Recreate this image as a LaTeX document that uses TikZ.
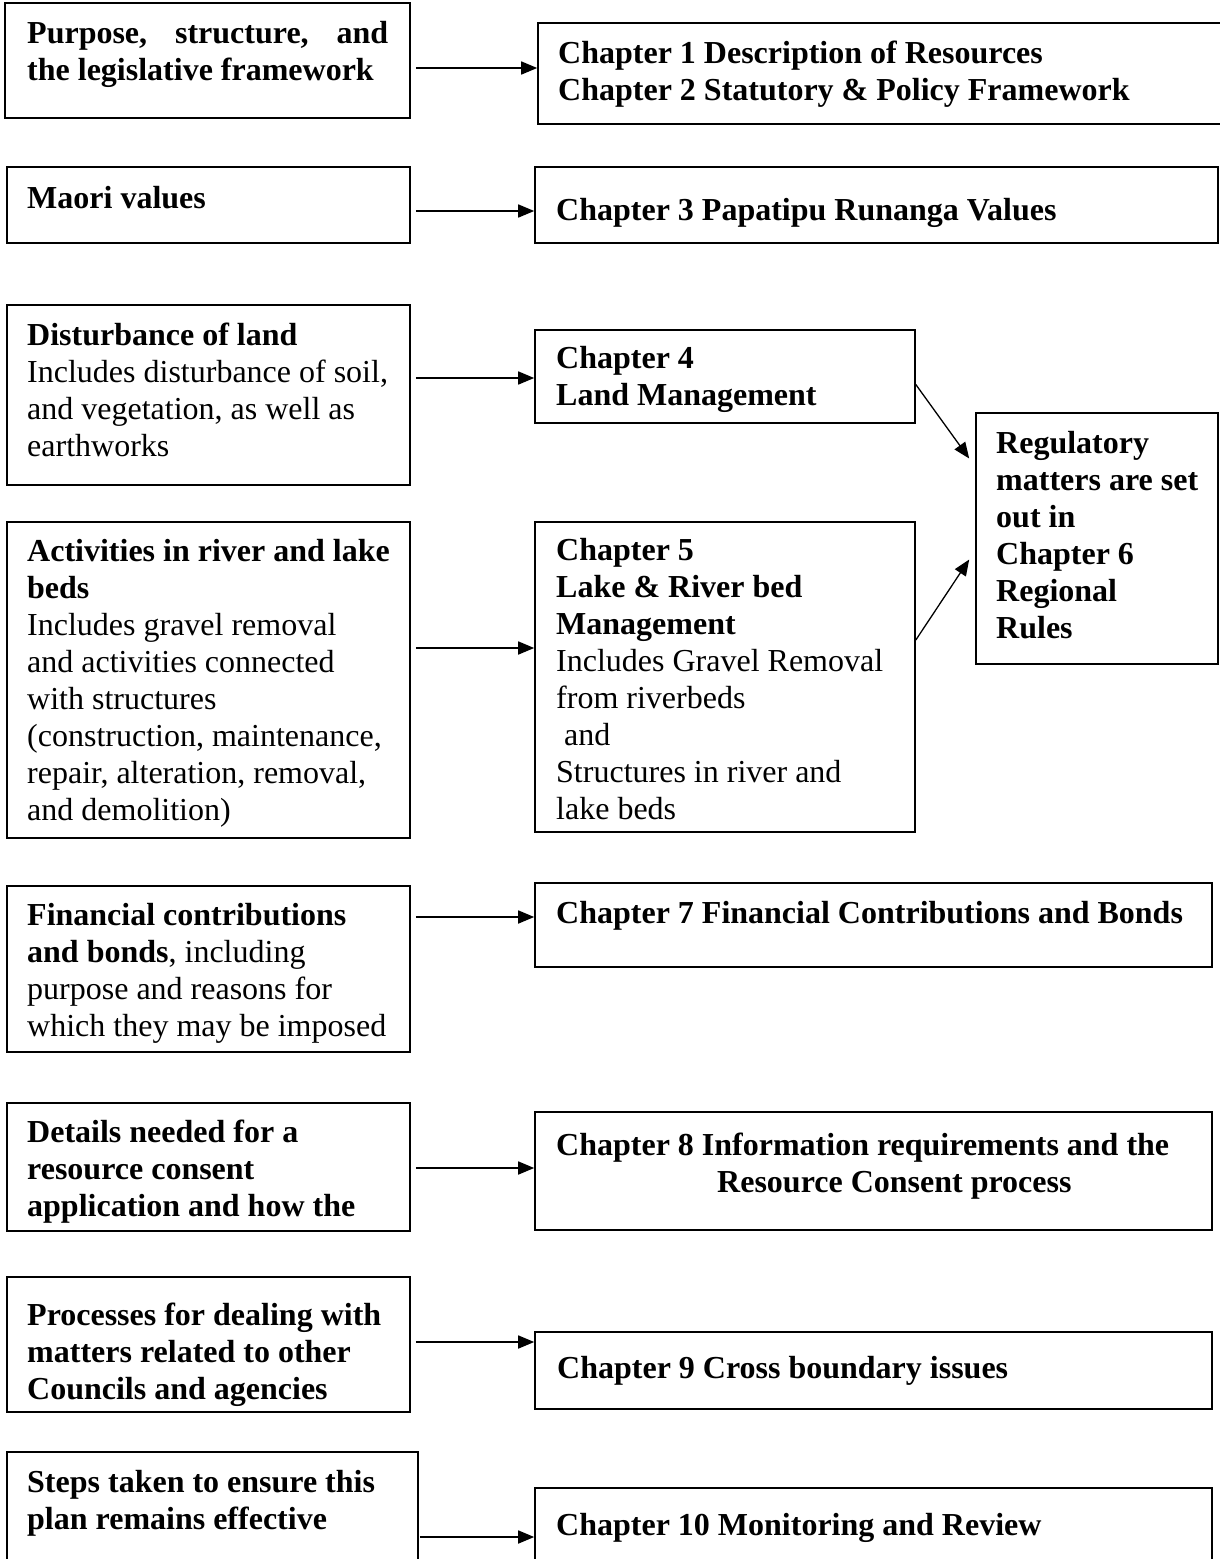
\documentclass[tikz,border=0pt]{standalone}
\usepackage{fontspec}
\setmainfont{Liberation Serif}
\usetikzlibrary{arrows.meta,fit}
\newcommand{\fl}{\rule{0pt}{24pt}}
\begin{document}
\begin{tikzpicture}[x=1pt,y=-1pt,
  box/.style={draw, line width=1.6pt, inner sep=0pt},
  txt/.style={anchor=north west, inner sep=0pt, align=left, font=\fontsize{32}{37}\selectfont},
  arr/.style={line width=1.6pt, -{Triangle[length=16pt,width=13pt]}}]
\useasboundingbox (0,0) rectangle (1219,1559);

% left boxes
\node[box, fit={(5,3) (410,118)}] (a1) {};
\node[box, fit={(7,167) (410,243)}] (a2) {};
\node[box, fit={(7,305) (410,485)}] (a3) {};
\node[box, fit={(7,522) (410,838)}] (a4) {};
\node[box, fit={(7,886) (410,1052)}] (a5) {};
\node[box, fit={(7,1103) (410,1231)}] (a6) {};
\node[box, fit={(7,1277) (410,1412)}] (a7) {};
\node[box, fit={(7,1452) (418,1575)}] (a8) {};

% right boxes
\node[box, fit={(538,23) (1230,124)}] (b1) {};
\node[box, fit={(535,167) (1218,243)}] (b2) {};
\node[box, fit={(535,330) (915,423)}] (b3) {};
\node[box, fit={(535,522) (915,832)}] (b4) {};
\node[box, fit={(976,413) (1218,664)}] (c) {};
\node[box, fit={(535,883) (1212,967)}] (b5) {};
\node[box, fit={(535,1112) (1212,1230)}] (b6) {};
\node[box, fit={(535,1332) (1212,1409)}] (b7) {};
\node[box, fit={(535,1488) (1212,1575)}] (b8) {};

% texts
\node[txt] (a1t) at (27,19) {\fl\bfseries\hbox to 361pt{Purpose,\hfill structure,\hfill and}\\\bfseries the legislative framework};
\node[txt] (b1t) at (558,39) {\fl\bfseries Chapter 1 Description of Resources\\\bfseries Chapter 2 Statutory \& Policy Framework};
\node[txt] (a2t) at (27,184) {\fl\bfseries Maori values};
\node[txt] (b2t) at (556,196) {\fl\bfseries Chapter 3 Papatipu Runanga Values};
\node[txt] (a3t) at (27,321) {\fl\textbf{Disturbance of land}\\Includes disturbance of soil,\\and vegetation, as well as\\earthworks};
\node[txt] (b3t) at (556,344) {\fl\bfseries Chapter 4\\\bfseries Land Management};
\node[txt] (a4t) at (27,537) {\fl\textbf{Activities in river and lake}\\\textbf{beds}\\Includes gravel removal\\and activities connected\\with structures\\(construction, maintenance,\\repair, alteration, removal,\\and demolition)};
\node[txt] (b4t) at (556,536) {\fl\textbf{Chapter 5}\\\textbf{Lake \& River bed}\\\textbf{Management}\\Includes Gravel Removal\\from riverbeds\\\hspace*{8pt}and\\Structures in river and\\lake beds};
\node[txt] (ct) at (996,429) {\fl\bfseries Regulatory\\\bfseries matters are set\\\bfseries out in\\\bfseries Chapter 6\\\bfseries Regional\\\bfseries Rules};
\node[txt] (a5t) at (27,901) {\fl\textbf{Financial contributions}\\\textbf{and bonds}, including\\purpose and reasons for\\which they may be imposed};
\node[txt] (b5t) at (556,899) {\fl\bfseries Chapter 7 Financial Contributions and Bonds};
\node[txt] (a6t) at (27,1118) {\fl\bfseries Details needed for a\\\bfseries resource consent\\\bfseries application and how the};
\node[txt] (b6t) at (556,1131) {\fl\bfseries Chapter 8 Information requirements and the\\\bfseries\hspace*{161pt}Resource Consent process};
\node[txt] (a7t) at (27,1301) {\fl\bfseries Processes for dealing with\\\bfseries matters related to other\\\bfseries Councils and agencies};
\node[txt] (b7t) at (557,1354) {\fl\bfseries Chapter 9 Cross boundary issues};
\node[txt] (a8t) at (27,1468) {\fl\bfseries Steps taken to ensure this\\\bfseries plan remains effective};
\node[txt] (b8t) at (556,1511) {\fl\bfseries Chapter 10 Monitoring and Review};

% row coordinates
\coordinate (r1) at (0,68);
\coordinate (r2) at (0,211);
\coordinate (r3) at (0,378);
\coordinate (r4) at (0,648);
\coordinate (r5) at (0,917);
\coordinate (r6) at (0,1168);
\coordinate (r7) at (0,1342);
\coordinate (r8) at (0,1537);

% connectors
\draw[arr] ([xshift=5pt]a1.east |- r1) -- (b1.west |- r1);
\draw[arr] ([xshift=5pt]a2.east |- r2) -- (b2.west |- r2);
\draw[arr] ([xshift=5pt]a3.east |- r3) -- (b3.west |- r3);
\draw[arr] ([xshift=5pt]a4.east |- r4) -- (b4.west |- r4);
\draw[arr] ([xshift=5pt]a5.east |- r5) -- (b5.west |- r5);
\draw[arr] ([xshift=5pt]a6.east |- r6) -- (b6.west |- r6);
\draw[arr] ([xshift=5pt]a7.east |- r7) -- (b7.west |- r7);
\draw[arr] ([xshift=1pt]a8.east |- r8) -- (b8.west |- r8);

\draw[line width=1.3pt, -{Triangle[length=16pt,width=13pt]}] ([yshift=-8pt]b3.east) -- ([xshift=-6pt,yshift=80pt]c.west);
\draw[line width=1.3pt, -{Triangle[length=16pt,width=13pt]}] ([yshift=37pt]b4.east) -- ([xshift=-6pt,yshift=-21pt]c.west);
\end{tikzpicture}
\end{document}
